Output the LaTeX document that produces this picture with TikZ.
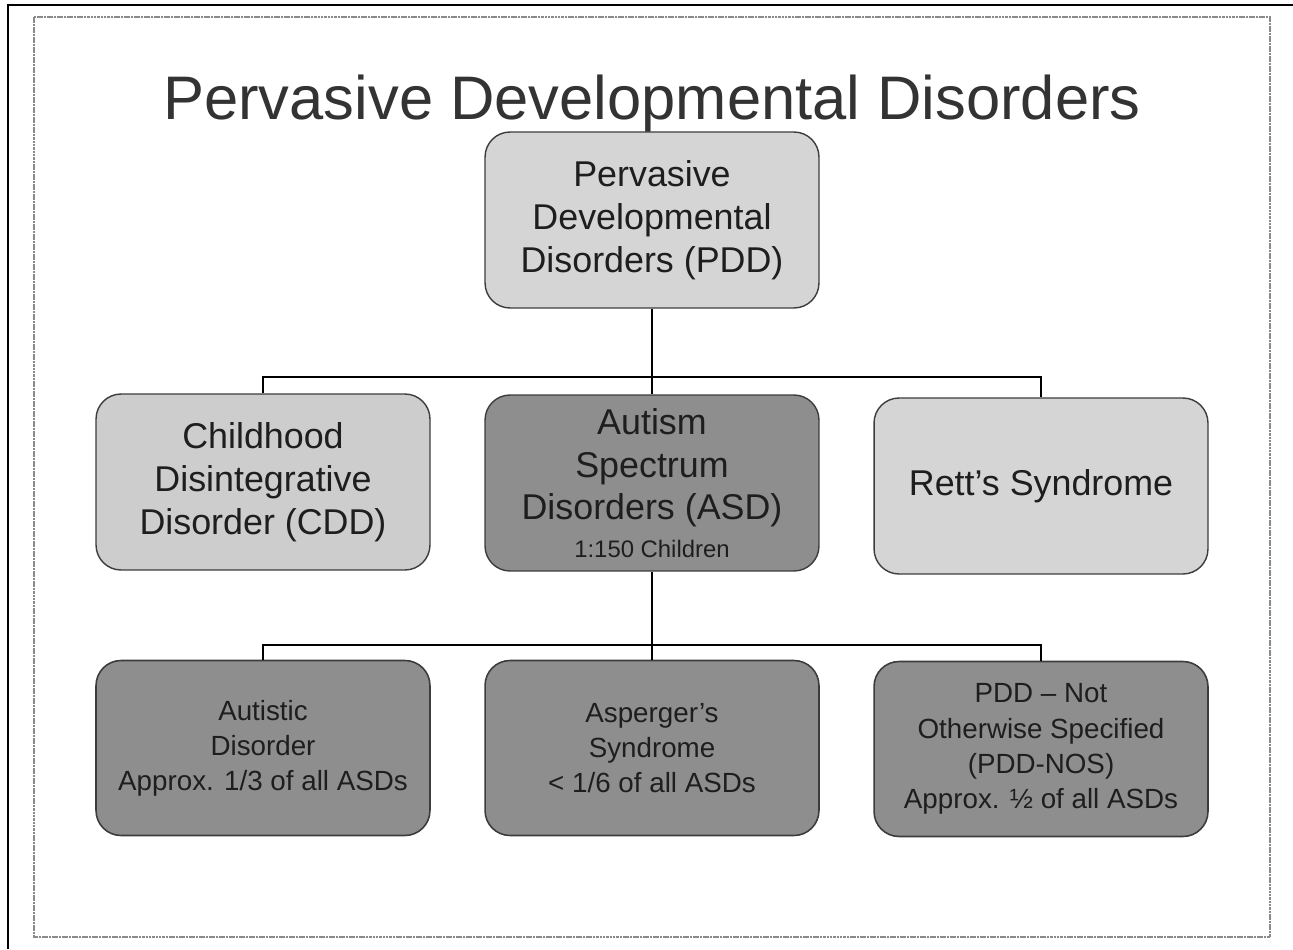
\documentclass[tikz,border=0pt]{standalone}
\usepackage{fontspec}
\setmainfont{Liberation Sans}
\usepackage{xcolor}
\usetikzlibrary{positioning,calc}
\definecolor{InkGray}  {HTML}{1E1E1E}
\definecolor{TitleGray}{HTML}{333333}
\definecolor{EdgeGray} {HTML}{3C3C3C}
\definecolor{PaleFill} {HTML}{D5D5D5}
\definecolor{SideFill} {HTML}{CDCDCD}
\definecolor{DarkFill} {HTML}{8E8E8E}
\definecolor{FrameGray}{HTML}{8A8A8A}
\tikzset{
  bigbox/.style={rectangle,rounded corners=0.5cm,draw=EdgeGray,line width=0.8pt,
                 fill=#1,minimum width=6.68cm,minimum height=3.52cm,
                 align=center,text=InkGray,
                 font=\fontsize{20.4}{24.4}\selectfont},
  subbox/.style={rectangle,rounded corners=0.5cm,draw=EdgeGray,line width=0.9pt,
                 fill=DarkFill,minimum width=6.68cm,minimum height=3.5cm,
                 align=center,text=InkGray,
                 font=\fontsize{15.8}{20}\selectfont},
  conn/.style={line width=1.3pt,color=black},
}
\begin{document}
\begin{tikzpicture}[x=0.02cm,y=-0.02cm]
  \useasboundingbox (0,0) rectangle (1293,949);

  % page frame
  \draw[line width=1pt] (8,949) -- (8,5) -- (1293,5);
  \draw[FrameGray,line width=0.7pt,dash pattern=on 1.5pt off 0.4pt]
    (34,17) rectangle (1270,937);

  \node[font=\fontsize{35}{40}\selectfont,text=TitleGray,anchor=base] (title)
    at (652,120) {Pervasive Developmental Disorders};

  % top level
  \node[bigbox=PaleFill] (pdd) at (652,220)
    {Pervasive\\Developmental\\Disorders (PDD)};

  % second level
  \node[bigbox=SideFill] (cdd)  at (263,482)
    {Childhood\\Disintegrative\\Disorder (CDD)};
  \node[bigbox=DarkFill] (asd)  at (652,483)
    {Autism\\Spectrum\\Disorders (ASD)\\[-3pt]
     {\fontsize{13.6}{16}\selectfont 1:150 Children}};
  \node[bigbox=PaleFill] (rett) at (1041,486) {Rett's Syndrome};

  % third level
  \node[subbox] (aut) at (263,748)
    {Autistic\\Disorder\\Approx. 1/3 of all ASDs};
  \node[subbox] (asp) at (652,748)
    {Asperger's\\Syndrome\\< 1/6 of all ASDs};
  \node[subbox] (nos) at (1041,749)
    {PDD – Not\\Otherwise Specified\\(PDD-NOS)\\Approx. ½ of all ASDs};

  % connectors
  \coordinate (busA) at (652,377);
  \coordinate (busB) at (652,645);
  \draw[conn] (pdd.south) -- (asd.north);
  \draw[conn] (cdd.north) |- (busA) -| (rett.north);
  \draw[conn] (asd.south) -- (asp.north);
  \draw[conn] (aut.north) |- (busB) -| (nos.north);

\end{tikzpicture}
\end{document}
